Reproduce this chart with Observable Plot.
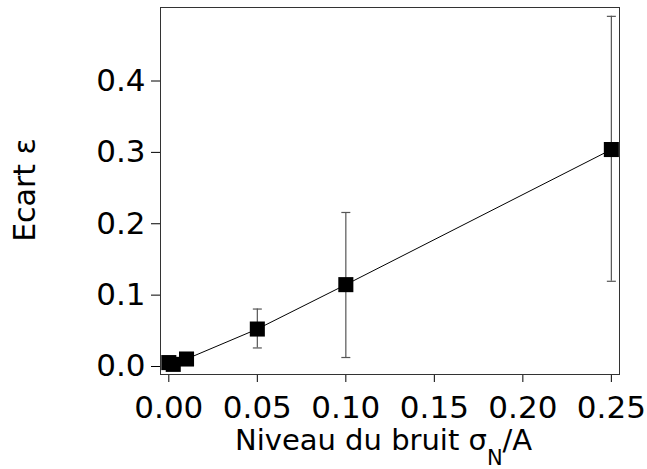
<!DOCTYPE html>
<html><head><meta charset="utf-8">
<script src="https://cdn.jsdelivr.net/npm/d3@7"></script>
<script src="https://cdn.jsdelivr.net/npm/@observablehq/plot@0.6"></script>
<style>html,body{margin:0;padding:0;background:#fff;overflow:hidden}</style>
</head><body><div id="chart"></div>
<script>
const noise = [0, 0.0025, 0.01, 0.05, 0.10, 0.25];
const ecart = [0.0055, 0.003, 0.0105, 0.0525, 0.1147, 0.304];
const errNoise = [0.05, 0.10, 0.25];
const errLow = [0.026, 0.0126, 0.1194];
const errHigh = [0.0805, 0.2158, 0.4906];
const xTicks = [0, 0.05, 0.10, 0.15, 0.20, 0.25];
const yTicks = [0, 0.1, 0.2, 0.3, 0.4];

const pts = noise.map((x, i) => ({x, y: ecart[i]}));
const errs = errNoise.map((x, i) => ({x, lo: errLow[i], hi: errHigh[i]}));

const cap = {draw(ctx) { ctx.moveTo(-4.5, 0); ctx.lineTo(4.5, 0); }};

const W = 647, H = 469;
const svg = Plot.plot({
  width: W, height: H,
  marginLeft: 160, marginRight: 28, marginTop: 7, marginBottom: 95,
  style: {fontFamily: "DejaVu Sans", fontSize: "31px", color: "#000", background: "#fff"},
  x: {domain: [-0.0047, 0.2546], ticks: xTicks, tickFormat: d3.format(".2f"), label: null, tickSize: 8, tickPadding: 13},
  y: {domain: [-0.0112, 0.503], ticks: yTicks, tickFormat: d3.format(".1f"), label: null, tickSize: 9, tickPadding: 6},
  marks: [
    Plot.frame({stroke: "#333"}),
    Plot.ruleX(errs, {x: "x", y1: "lo", y2: "hi", stroke: "#555", strokeWidth: 1.2}),
    Plot.dot(errs, {x: "x", y: "lo", symbol: cap, stroke: "#555", strokeWidth: 1.2, r: 5}),
    Plot.dot(errs, {x: "x", y: "hi", symbol: cap, stroke: "#555", strokeWidth: 1.2, r: 5}),
    Plot.line(pts, {x: "x", y: "y", stroke: "#000", strokeWidth: 1}),
    Plot.dot(pts, {x: "x", y: "y", symbol: "square", fill: "#000", r: 8.5})
  ]
});

const s = d3.select(svg);
const t = s.append("text")
  .attr("x", 235).attr("y", 450)
  .attr("text-anchor", "start")
  .attr("font-size", 29).attr("font-family", "DejaVu Sans").attr("fill", "#000");
t.append("tspan").text("Niveau du bruit σ");
t.append("tspan").attr("font-size", 21).attr("dy", 15).text("N");
t.append("tspan").attr("dy", -15).text("/A");

s.append("text")
  .attr("transform", "translate(35,190) rotate(-90)")
  .attr("text-anchor", "middle")
  .attr("font-size", 30).attr("font-family", "DejaVu Sans").attr("fill", "#000")
  .text("Ecart ε");

document.getElementById("chart").appendChild(svg);
</script>
</body></html>
